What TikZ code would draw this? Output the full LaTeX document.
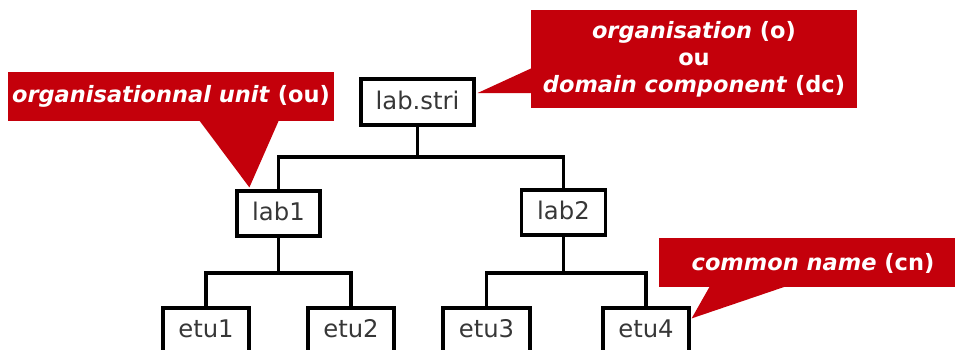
\documentclass[tikz,border=0pt]{standalone}
\usepackage{fontspec}
\setmainfont{DejaVu Sans}
\setsansfont{DejaVu Sans}
\usetikzlibrary{calc}
\definecolor{calloutred}{RGB}{196,0,11}
\definecolor{nodetext}{RGB}{55,55,55}
\begin{document}
\begin{tikzpicture}[x=1pt,y=-1pt,
  entry/.style={draw=black, line width=3.2pt, fill=white, text=nodetext,
    font=\fontsize{24.3}{28}\selectfont, inner sep=0pt, minimum height=45pt,
    text height=18.5pt, text depth=4pt},
  link/.style={draw=black, line width=3.2pt},
  callout/.style={fill=calloutred, inner sep=0pt},
  callouttext/.style={text=white, font=\fontsize{22.5}{27}\selectfont\bfseries, align=center, inner sep=0pt}
]
\useasboundingbox (0,0) rectangle (955,349);
\begin{scope}
\clip (0,0) rectangle (955,349);
% tree nodes
\node[entry, minimum width=113pt, minimum height=46pt] (root) at (417.5,102) {lab.stri};
\node[entry, minimum width=83pt] (lab1) at (278.5,213.5) {lab1};
\node[entry, minimum width=84pt] (lab2) at (563.5,212.5) {lab2};
\node[entry, minimum width=86pt] (etu1) at (206,330.5) {etu1};
\node[entry, minimum width=86pt] (etu2) at (351,330.5) {etu2};
\node[entry, minimum width=87pt] (etu3) at (486.5,330.5) {etu3};
\node[entry, minimum width=86pt] (etu4) at (646,330.5) {etu4};
% connectors
\draw[link] (root.south) -- (root.south |- 0,157);
\draw[link] (lab1.north) -- (lab1.north |- 0,157) -| (lab2.north);
\draw[link] (lab1.south) -- (lab1.south |- 0,273);
\draw[link] (etu1.north) -- (etu1.north |- 0,273) -| (etu2.north);
\draw[link] (lab2.south) -- (lab2.south |- 0,273);
\draw[link] (etu3.north) -- (etu3.north |- 0,273) -| (etu4.north);
% callout: organisationnal unit
\node[callout, minimum width=326pt, minimum height=49pt] (cou) at (171,96.5) {};
\coordinate (tipou) at ($(lab1.north west)+(14,-2)$);
\fill[calloutred] (199,120) -- (279,120) -- (tipou) -- cycle;
\node[callouttext] at (cou) {\itshape organisationnal unit\/ \upshape(ou)};
% callout: organisation / domain component
\node[callout, minimum width=326pt, minimum height=98pt] (co) at (694,59) {};
\coordinate (tipo) at ($(root.east)+(2,-9)$);
\fill[calloutred] (532,68) -- (tipo) -- (532,93) -- cycle;
\node[callouttext] at (co) {{\itshape organisation\/} (o)\\ou\\{\itshape domain component\/} (dc)};
% callout: common name
\node[callout, minimum width=301pt, minimum height=49pt] (ccn) at (809.5,262.5) {};
\coordinate (tipcn) at ($(etu4.north east)+(1,12)$);
\fill[calloutred] (710,286) -- (787,286) -- (tipcn) -- cycle;
\node[callouttext] at (813,263) {{\itshape common name\/} (cn)};
\end{scope}
\end{tikzpicture}
\end{document}
